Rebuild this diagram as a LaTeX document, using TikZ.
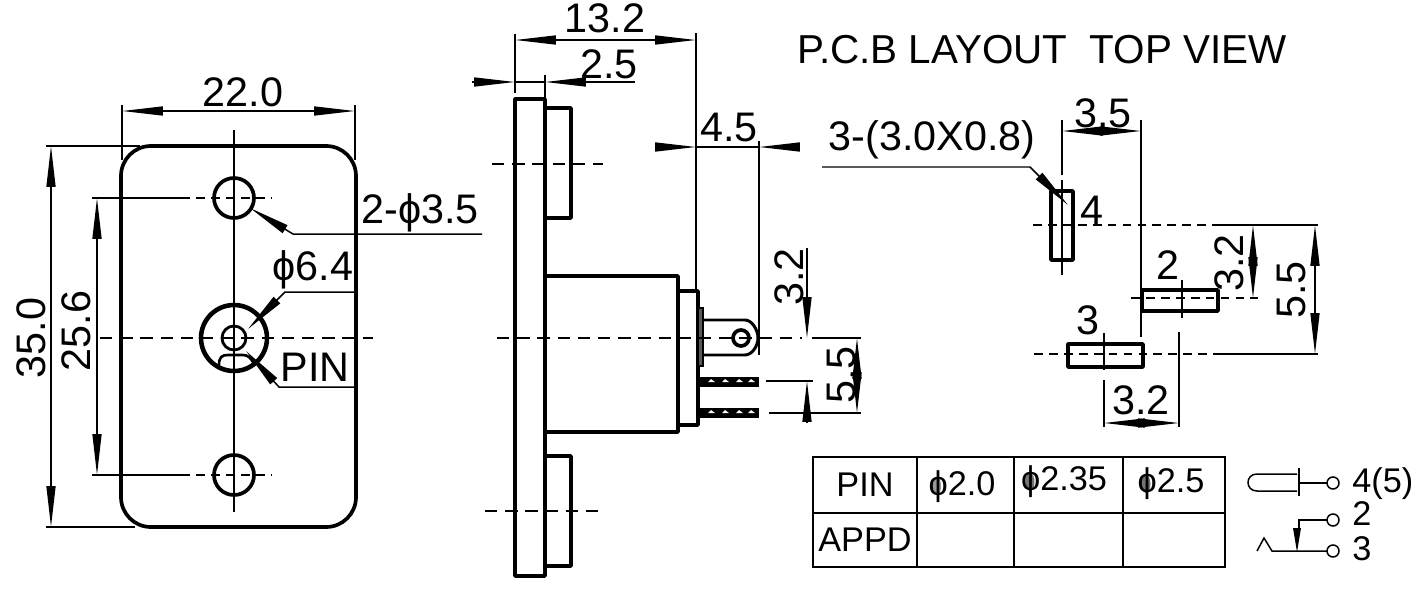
\documentclass[tikz,border=0pt]{standalone}
\usepackage{fontspec}
\setmainfont{Liberation Sans}
\usetikzlibrary{arrows.meta}
\tikzset{outline/.style={
  line width=2.1pt,
  line join=round}}
\tikzset{dimline/.style={
  line width=.85pt}}
\tikzset{dimarrow/.style={
  line width=.85pt,
  >={Triangle[length=.82cm,width=.18cm]}}}
\tikzset{axisline/.style={
  line width=1pt,
  dash pattern=on 7pt off 4.5pt}}
\tikzset{padaxis/.style={
  line width=1pt,
  dash pattern=on 5pt off 3.5pt}}
\tikzset{dimtext/.style={
  inner sep=0pt,
  font=\fontsize{23.5}{25}\selectfont}}
\tikzset{tabletext/.style={
  inner sep=0pt,
  font=\fontsize{19.5}{22}\selectfont}}

\begin{document}
\begin{tikzpicture}[x=.02cm,y=-.02cm]
  \useasboundingbox (0,0) rectangle (1418,602);

  %%%% Front view %%%%
  \draw[outline,rounded corners=17pt] (121,146) rectangle (356,527);
  \draw[outline] (234,198) circle (20);
  \draw[outline] (234,475) circle (20);
  \draw[outline,line width=2.6pt] (234,338) circle (33);
  \draw[outline,line width=1.6pt] (234,338) circle (12);
  %% Contact under the pin
  \draw[line width=1.5pt] (219,365) .. controls (219,357) and (222,355) .. (228,355) -- (243,355) .. controls (248,355) and (251,358) .. (254,364);
  %% Centre lines
  \draw[dimline] (234,130) -- (234,512);
  \draw[axisline] (100,338) -- (373,338);
  \draw[dimline] (92,198) -- (190,198);
  \draw[padaxis] (196,198) -- (272,198);
  \draw[dimline] (92,475) -- (190,475);
  \draw[padaxis] (196,475) -- (272,475);

  %% Dimensions
  \draw[dimline] (122,105) -- (122,160) (355,105) -- (355,160);
  \draw[dimarrow,<->] (122,111) -- (355,111);
  \node[dimtext] (width) at (243,92) {22.0};
  \draw[dimline] (46,146) -- (140,146) (46,527) -- (135,527);
  \draw[dimarrow,<->] (51,146) -- (51,527);
  \node[dimtext,rotate=90] (height) at (31,338) {35.0};
  \draw[dimarrow,<->] (97,198) -- (97,475);
  \node[dimtext,rotate=90] (pitch) at (76,331) {25.6};
  %% Leaders
  \draw[dimarrow,<-] (250,208) -- (293,234) -- (482,234);
  \node[dimtext] (holes) at (420,213) {2-ϕ3.5};
  \draw[dimarrow,<-] (248,329) -- (285,292) -- (357,292);
  \node[dimtext] (bore) at (313,270) {ϕ6.4};
  \draw[dimarrow,<-] (246,351) -- (279,387) -- (356,387);
  \node[dimtext] (pin) at (315,367) {PIN};

  %%%% Side view %%%%
  \draw[outline] (515,99) rectangle (545,576);
  \draw[outline] (545,108) rectangle (571,218);
  \draw[outline] (545,456) rectangle (571,566);
  \draw[outline] (545,276) rectangle (678,432);
  \draw[outline] (678,291) rectangle (698,425);
  \fill[black!65,draw=black,line width=1pt] (698,308) rectangle (703,366);
  %% Solder lug
  \draw[outline,line width=1.7pt] (703,320) -- (745,320) .. controls (752,320) and (758,330) .. (758,338) .. controls (758,346) and (752,355) .. (745,355) -- (703,355);
  \draw[outline] (741,338) circle (8);
  %% Threaded pins
  \foreach \y in {377,408}{
    \fill (699,\y) rectangle (759,\y+9.5);
    \foreach \x in {708,722,736,748}{
      \fill[white] (\x,\y+5) -- (\x+3,\y+2) -- (\x+7,\y+5) -- cycle;
    }
  }
  %% Centre lines
  \draw[axisline] (497,338) -- (802,338);
  \draw[axisline] (492,164) -- (603,164);
  \draw[axisline] (485,511) -- (600,511);

  %% Dimensions
  \draw[dimline] (515,34) -- (515,93) (696,33) -- (696,291) (545,75) -- (545,99);
  \draw[dimarrow,<->] (515,40) -- (696,40);
  \node[dimtext] (depth) at (605,18) {13.2};
  \draw[dimarrow,->] (472,82) -- (515,82);
  \draw[dimarrow,<-] (545,82) -- (635,82);
  \draw[dimline] (515,82) -- (545,82);
  \node[dimtext] (flange) at (609,64) {2.5};
  \draw[dimline] (759,141) -- (759,355);
  \draw[dimarrow,->] (658,147) -- (696,147);
  \draw[dimarrow,->] (798,147) -- (759,147);
  \draw[dimline] (696,147) -- (759,147);
  \node[dimtext] (lug) at (729,127) {4.5};
  \draw[dimarrow,->] (807,248) -- (807,338);
  \draw[dimarrow,->] (807,423) -- (807,381);
  \node[dimtext,rotate=90] (lugpitch) at (789,277) {3.2};
  \draw[dimline] (812,338) -- (861,338) (766,381) -- (813,381) (769,413) -- (861,413);
  \draw[dimarrow,<-] (857,338) -- (857,375);
  \draw[dimarrow,<-] (857,413) -- (857,377);
  \node[dimtext,rotate=90] (pinpitch) at (841,375) {5.5};

  %%%% P.C.B layout %%%%
  \node[dimtext,font=\fontsize{23}{25}\selectfont] (title) at (1042,50) {P.C.B LAYOUT\ \ TOP VIEW};
  \draw[outline] (1051,191) rectangle (1073,260);
  \draw[outline] (1142,290) rectangle (1218,311);
  \draw[outline] (1068,344) rectangle (1143,367);
  \node[dimtext] (pad4) at (1092,210) {4};
  \node[dimtext] (pad2) at (1168,265) {2};
  \node[dimtext] (pad3) at (1088,320) {3};
  %% Centre lines
  \draw[padaxis] (1033,225) -- (1217,225);
  \draw[dimline] (1217,225) -- (1318,225);
  \draw[padaxis] (1131,298) -- (1258,298);
  \draw[padaxis] (1034,354) -- (1220,354);
  \draw[dimline] (1220,354) -- (1318,354);
  \draw[dimline] (1062,120) -- (1062,175) (1062,180) -- (1062,275);
  \draw[dimline] (1141,120) -- (1141,337);
  \draw[dimline] (1182,280) -- (1182,318);
  \draw[dimline] (1104,333) -- (1104,370) (1104,380) -- (1104,427);
  \draw[dimline] (1179,332) -- (1179,427);

  %% Dimensions
  \draw[dimarrow,<-] (1062,131) -- (1100,131);
  \draw[dimarrow,<-] (1141,131) -- (1103,131);
  \node[dimtext] (padx) at (1103,113) {3.5};
  \draw[dimarrow,<-] (1068,205) -- (1030,167) -- (822,167);
  \node[dimtext] (padsize) at (932,140) {3-(3.0X0.8)};
  \draw[dimarrow,<->] (1253,225) -- (1253,298);
  \node[dimtext,rotate=90] (pady) at (1229,263) {3.2};
  \draw[dimarrow,<->] (1315,225) -- (1315,354);
  \node[dimtext,rotate=90] (padz) at (1291,290) {5.5};
  \draw[dimarrow,<-] (1104,423) -- (1141,423);
  \draw[dimarrow,<-] (1179,423) -- (1142,423);
  \node[dimtext] (padw) at (1141,400) {3.2};

  %%%% Table %%%%
  \draw[line width=1.5pt] (813,457) rectangle (1225,567);
  \draw[line width=1.2pt] (813,513) -- (1225,513);
  \foreach \x in {917,1014,1123}{
    \draw[line width=1.2pt] (\x,457) -- (\x,567);
  }
  \fill[black!40] (937,486) ellipse (4 and 9);
  \fill[black!55] (1030,482) ellipse (4.5 and 9);
  \fill[black!55] (1146,484) ellipse (4.5 and 9);
  \node[tabletext] (pinhead) at (865,485) {PIN};
  \node[tabletext] (dia1) at (962,487) {ϕ2.0};
  \node[tabletext] (dia2) at (1064,482) {ϕ2.35};
  \node[tabletext] (dia3) at (1171,484) {ϕ2.5};
  \node[tabletext] (appd) at (865,540) {APPD};

  %%%% Circuit symbol %%%%
  \draw[dimline] (1297,474) -- (1257,474) .. controls (1245,474) and (1245,491) .. (1257,491) -- (1297,491);
  \draw[line width=1.2pt] (1299,468) -- (1299,496);
  \draw[dimline] (1299,483) -- (1327,483);
  \draw[dimline] (1333,483) circle (6);
  \node[tabletext,anchor=west] (term4) at (1352,484) {4(5)};
  \draw[dimline] (1327,520) -- (1299,520) -- (1299,530);
  \draw[dimline] (1333,520) circle (6);
  \node[tabletext,anchor=west] (term2) at (1352,514) {2};
  \fill (1293,528) -- (1301,528) -- (1297,552) -- cycle;
  \draw[dimline] (1257,551) -- (1264,538) -- (1272,551) -- (1327,551);
  \draw[dimline] (1333,551) circle (6);
  \node[tabletext,anchor=west] (term3) at (1352,549) {3};
\end{tikzpicture}
\end{document}
